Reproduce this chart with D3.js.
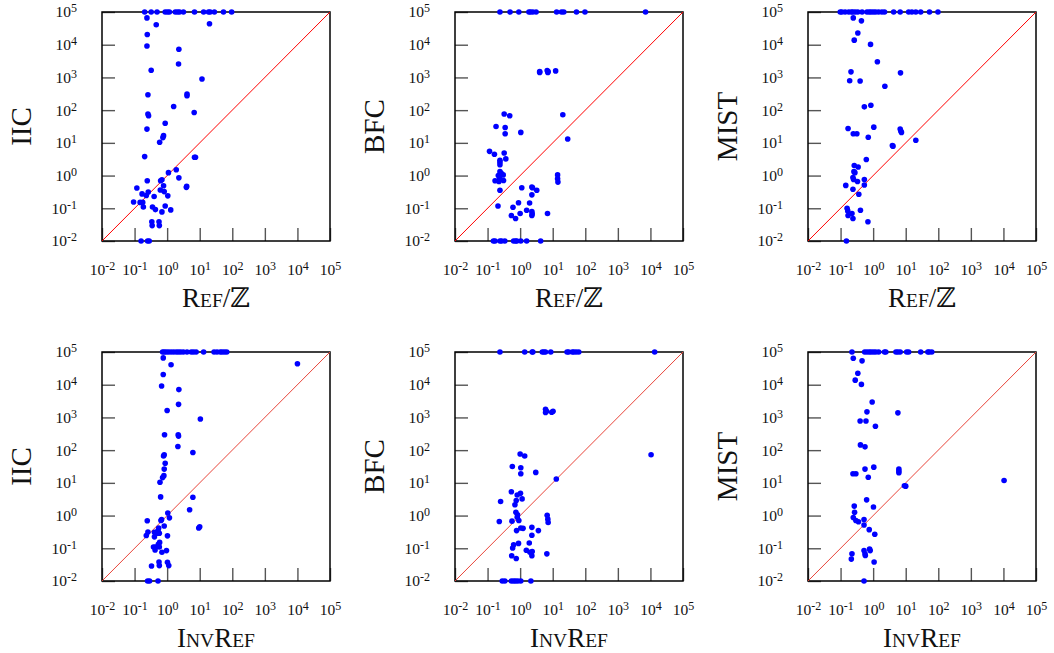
<!DOCTYPE html>
<html lang="en">

<head>
    <meta charset="UTF-8">
    <title>Solver comparison scatter</title>
    <style>
        body { margin: 0; background: #fff; }
        text { font-family: "Liberation Serif", "DejaVu Serif", serif; fill: #111; }
    </style>
</head>

<body>
    <svg id="chart"></svg>

    <script src="https://d3js.org/d3.v7.min.js"></script>
    <script>
        // tick values (powers of ten)
        const tickExps = [-2, -1, 0, 1, 2, 3, 4, 5];
        const yNames = ['IIC', 'BFC', 'MIST'];
        const xNames = ['ref', 'inv'];

        // points as [log10 x, log10 y]
        const iicVsRef = [
            [-0.69, 5], [-0.49, 5], [-0.31, 5], [-0.06, 5], [0.01, 5], [0.07, 5], [0.25, 5], [0.32, 5], [0.38, 5],
            [0.50, 5], [0.84, 5], [1.12, 5], [1.27, 5], [1.32, 5], [1.45, 5], [1.73, 5], [1.98, 5],
            [-0.62, 4.82], [1.30, 4.64], [-0.335, 4.61], [-0.61, 4.31], [-0.62, 3.96], [0.36, 3.86], [0.35, 3.41],
            [-0.49, 3.22], [1.07, 2.95], [-0.59, 2.47], [0.61, 2.49], [0.61, 2.44], [0.20, 2.11], [0.83, 1.93],
            [-0.59, 1.88], [-0.57, 1.83], [-0.06, 1.60], [-0.62, 1.42], [-0.11, 1.22], [-0.13, 1.16], [-0.23, 1.02],
            [-0.69, 0.58], [0.84, 0.56], [0.87, 0.56], [0.28, 0.18], [0.04, 0.09], [0.36, -0.07], [-0.61, -0.16],
            [-0.20, -0.16], [-0.16, -0.13], [-0.11, -0.31], [-0.93, -0.38], [0.59, -0.36], [0.60, -0.33],
            [-0.21, -0.44], [-0.58, -0.50], [-0.77, -0.56], [-0.64, -0.61], [-0.09, -0.49], [0.02, -0.62],
            [-0.40, -0.64], [-1.03, -0.81], [-0.83, -0.82], [-0.75, -0.82], [-0.73, -0.96], [-0.45, -0.96],
            [-0.36, -1.04], [-0.06, -0.93], [0.11, -1.05], [-0.16, -1.11], [-0.47, -1.41], [-0.46, -1.53],
            [-0.25, -1.41], [-0.24, -1.53],
            [-0.80, -2], [-0.60, -2], [-0.55, -2]
        ];

        const bfcVsRef = [
            [-0.62, 5], [-0.31, 5], [-0.04, 5], [0.27, 5], [0.32, 5], [0.39, 5], [0.49, 5], [1.12, 5], [1.27, 5],
            [1.34, 5], [1.73, 5], [1.99, 5], [3.85, 5],
            [0.60, 3.18], [0.60, 3.15], [0.83, 3.21], [0.85, 3.15], [0.86, 3.18], [1.09, 3.20], [-0.49, 1.88],
            [-0.32, 1.83], [1.31, 1.86], [-0.74, 1.50], [-0.46, 1.47], [-0.46, 1.28], [0.02, 1.32], [1.46, 1.12],
            [-0.94, 0.74], [-0.79, 0.65], [-0.49, 0.69], [-0.44, 0.51], [-0.62, 0.47], [-0.62, 0.41], [-0.62, 0.33],
            [-0.58, 0.07], [-0.62, 0.12], [-0.67, 0.0], [-0.52, 0.02], [1.15, 0.02], [1.15, -0.10], [1.16, -0.20],
            [-0.77, -0.16], [-0.65, -0.18], [-0.51, -0.15], [-0.63, -0.08], [0.05, -0.37], [0.36, -0.35],
            [0.38, -0.37], [0.51, -0.45], [-0.62, -0.45], [0.36, -0.59], [-0.05, -0.83], [0.29, -0.84],
            [-0.68, -0.93], [-0.22, -0.97], [0.20, -1.06], [0.36, -1.10], [0.36, -1.22], [0.37, -1.17],
            [0.0, -1.16], [-0.27, -1.22], [-0.14, -1.31], [0.84, -1.16],
            [-0.82, -2], [-0.77, -2], [-0.62, -2], [-0.57, -2], [-0.47, -2], [-0.20, -2], [-0.14, -2], [-0.10, -2],
            [0.02, -2], [0.20, -2], [0.63, -2]
        ];

        const mistVsRef = [
            [-1.01, 5], [-0.96, 5], [-0.86, 5], [-0.75, 5], [-0.67, 5], [-0.62, 5], [-0.55, 5], [-0.47, 5],
            [-0.34, 5], [-0.19, 5], [-0.12, 5], [-0.06, 5], [0.01, 5], [0.08, 5], [0.17, 5], [0.27, 5], [0.35, 5],
            [0.63, 5], [0.83, 5], [1.09, 5], [1.19, 5], [1.31, 5], [1.46, 5], [1.73, 5], [1.99, 5],
            [-0.61, 4.82], [-0.36, 4.73], [-0.47, 4.36], [-0.58, 4.14], [-0.08, 4.01], [0.13, 3.48], [-0.68, 3.17],
            [0.84, 3.14], [-0.72, 2.90], [-0.40, 2.89], [0.36, 2.73], [-0.27, 2.10], [-0.07, 2.15], [-0.77, 1.44],
            [-0.61, 1.28], [-0.50, 1.28], [0.02, 1.48], [-0.15, 1.17], [0.83, 1.42], [0.85, 1.36], [0.87, 1.32],
            [1.31, 1.08], [0.59, 0.92], [0.61, 0.90], [-0.21, 0.49], [-0.58, 0.31], [-0.46, 0.26], [-0.59, 0.12],
            [-0.56, 0.09], [-0.62, -0.06], [-0.60, -0.12], [-0.48, -0.18], [-0.27, -0.12], [-0.27, -0.29],
            [-0.84, -0.30], [-0.62, -0.42], [-0.44, -0.57], [-0.80, -1.0], [-0.78, -1.08], [-0.65, -1.16],
            [-0.62, -1.31], [-0.77, -1.22], [-0.39, -1.06], [-0.16, -1.41],
            [-0.82, -2]
        ];

        const iicVsInv = [
            [-0.14, 5], [-0.09, 5], [-0.03, 5], [0.04, 5], [0.12, 5], [0.20, 5], [0.28, 5], [0.35, 5], [0.42, 5],
            [0.50, 5], [0.61, 5], [0.74, 5], [0.81, 5], [0.89, 5], [1.12, 5], [1.44, 5], [1.53, 5], [1.63, 5],
            [1.69, 5], [1.76, 5], [1.83, 5],
            [4.0, 4.64], [-0.12, 4.82], [0.12, 4.61], [-0.12, 4.31], [-0.17, 3.96], [0.36, 3.85], [0.35, 3.40],
            [0.0, 3.21], [1.02, 2.95], [-0.08, 2.47], [0.34, 2.47], [0.35, 2.43], [0.33, 2.11], [0.79, 1.93],
            [-0.09, 1.86], [-0.11, 1.82], [-0.06, 1.60], [-0.09, 1.42], [-0.10, 1.22], [-0.14, 1.16], [-0.22, 1.02],
            [-0.20, 0.57], [0.79, 0.56], [0.69, 0.18], [0.02, 0.08], [0.07, -0.07], [-0.61, -0.16], [-0.19, -0.15],
            [-0.17, -0.12], [-0.09, -0.32], [0.97, -0.38], [1.00, -0.34], [-0.26, -0.38], [-0.28, -0.46],
            [-0.31, -0.54], [-0.24, -0.54], [-0.59, -0.50], [-0.64, -0.61], [-0.39, -0.51], [-0.39, -0.65],
            [0.01, -0.62], [-0.23, -0.82], [-0.27, -0.88], [-0.42, -0.96], [-0.36, -0.96], [-0.24, -0.96],
            [-0.37, -1.05], [-0.02, -1.07], [-0.16, -1.12], [-0.25, -1.42], [-0.24, -1.53], [0.01, -1.43],
            [0.05, -1.53], [-0.48, -1.54],
            [-0.60, -2], [-0.54, -2], [-0.28, -2]
        ];

        const bfcVsInv = [
            [-0.62, 5], [0.14, 5], [0.37, 5], [0.39, 5], [0.68, 5], [0.73, 5], [0.78, 5], [0.94, 5], [1.44, 5],
            [1.49, 5], [1.60, 5], [1.65, 5], [1.72, 5], [1.80, 5], [4.13, 5],
            [0.78, 3.25], [0.78, 3.15], [0.81, 3.19], [0.97, 3.16], [1.01, 3.19], [0.0, 1.88], [0.14, 1.82],
            [4.02, 1.86], [-0.24, 1.50], [0.02, 1.46], [0.02, 1.28], [0.48, 1.32], [1.11, 1.12], [-0.27, 0.73],
            [-0.09, 0.63], [0.01, 0.68], [-0.60, 0.43], [0.06, 0.51], [-0.12, 0.46], [-0.16, 0.33], [-0.13, 0.10],
            [-0.08, 0.02], [-0.09, -0.05], [-0.04, -0.15], [0.83, 0.01], [0.85, -0.11], [0.86, -0.21],
            [-0.64, -0.18], [-0.25, -0.17], [0.02, -0.38], [0.09, -0.39], [0.36, -0.36], [0.56, -0.46],
            [-0.11, -0.46], [0.36, -0.60], [-0.05, -0.85], [0.28, -0.84], [-0.20, -0.89], [-0.23, -0.99],
            [0.19, -1.06], [0.30, -1.12], [0.37, -1.10], [0.36, -1.23], [-0.26, -1.23], [-0.12, -1.31],
            [0.82, -1.17],
            [-0.55, -2], [-0.47, -2], [-0.27, -2], [-0.20, -2], [-0.14, -2], [-0.07, -2], [0.02, -2], [0.33, -2]
        ];

        const mistVsInv = [
            [-0.65, 5], [-0.26, 5], [-0.19, 5], [-0.12, 5], [-0.06, 5], [0.01, 5], [0.08, 5], [0.17, 5], [0.35, 5],
            [0.39, 5], [0.70, 5], [0.76, 5], [0.83, 5], [1.03, 5], [1.09, 5], [1.46, 5], [1.68, 5], [1.72, 5],
            [1.80, 5],
            [-0.61, 4.81], [-0.34, 4.73], [-0.47, 4.35], [-0.55, 4.14], [-0.36, 4.01], [-0.03, 3.47],
            [-0.19, 3.17], [0.76, 3.14], [-0.40, 2.89], [-0.22, 2.89], [0.07, 2.73], [-0.39, 2.16], [-0.25, 2.10],
            [-0.62, 1.28], [-0.53, 1.28], [-0.25, 1.42], [0.02, 1.48], [-0.15, 1.17], [0.79, 1.42], [0.79, 1.36],
            [0.79, 1.31], [4.02, 1.07], [0.96, 0.91], [1.00, 0.90], [-0.20, 0.48], [0.01, 0.26], [-0.58, 0.29],
            [-0.57, 0.10], [-0.61, -0.06], [-0.53, -0.15], [-0.45, -0.19], [-0.28, -0.12], [-0.28, -0.29],
            [-0.12, -0.43], [0.05, -0.57], [-0.28, -1.07], [-0.25, -1.17], [-0.24, -1.22], [-0.11, -1.02],
            [-0.09, -1.07], [-0.65, -1.17], [-0.67, -1.33], [0.03, -1.42],
            [-0.28, -2]
        ];

        const panelData = [
            [iicVsRef, bfcVsRef, mistVsRef],
            [iicVsInv, bfcVsInv, mistVsInv]
        ];

        // layout
        const W = 1054, H = 653;
        const plotW = 228, plotH = 229;
        const colLeft = [102, 455, 808];
        const rowTop = [12, 352];
        const diagColor = ['#f00', '#e8453a'];

        const svg = d3.select('#chart').attr('width', W).attr('height', H);

        // "10" with superscript exponent
        function powLabel(text) {
            text.each(function (d) {
                const t = d3.select(this);
                const e = Math.round(Math.log10(d));
                t.text(null);
                t.append('tspan').text('10');
                t.append('tspan').attr('dy', '-0.42em').attr('font-size', '12px').text(e);
            });
        }

        // small caps x titles
        function xTitle(g, name) {
            const big = 27, small = 19.5;
            const parts = name === 'ref'
                ? [['R', big], ['EF', small], ['/\u2124', big]]
                : [['I', big], ['NV', small], ['R', big], ['EF', small]];
            const t = g.append('text').attr('text-anchor', 'middle');
            parts.forEach(p => t.append('tspan').attr('font-size', p[1] + 'px').text(p[0]));
            return t;
        }

        const tickVals = tickExps.map(e => Math.pow(10, e));

        panelData.forEach((row, ri) => {
            row.forEach((pts, ci) => {
                const g = svg.append('g')
                    .attr('transform', `translate(${colLeft[ci]},${rowTop[ri]})`);

                const x = d3.scaleLog().domain([1e-2, 1e5]).range([0, plotW]);
                const y = d3.scaleLog().domain([1e-2, 1e5]).range([plotH, 0]);

                // axes with inside ticks
                const xAxis = d3.axisBottom(x).tickValues(tickVals).tickSize(-13).tickPadding(23);
                const yAxis = d3.axisLeft(y).tickValues(tickVals).tickSize(-13).tickPadding(25);

                g.append('g')
                    .attr('transform', `translate(0,${plotH})`)
                    .call(xAxis)
                    .call(a => a.select('.domain').remove())
                    .call(a => a.selectAll('.tick line').attr('stroke', '#555').attr('stroke-width', 1.4))
                    .call(a => a.selectAll('.tick text').attr('font-size', '15.5px')
                        .attr('font-family', '"Liberation Serif", serif').attr('fill', '#222').call(powLabel));

                g.append('g')
                    .call(yAxis)
                    .call(a => a.select('.domain').remove())
                    .call(a => a.selectAll('.tick line').attr('stroke', '#555').attr('stroke-width', 1.4))
                    .call(a => a.selectAll('.tick text').attr('font-size', '15.5px')
                        .attr('font-family', '"Liberation Serif", serif').attr('fill', '#222').call(powLabel));

                // frame
                g.append('rect')
                    .attr('width', plotW).attr('height', plotH)
                    .attr('fill', 'none').attr('stroke', '#000').attr('stroke-width', 1.5);

                // y = x
                g.append('line')
                    .attr('x1', x(1e-2)).attr('y1', y(1e-2))
                    .attr('x2', x(1e5)).attr('y2', y(1e5))
                    .attr('stroke', diagColor[ri]).attr('stroke-width', 1);

                g.append('g')
                    .selectAll('circle')
                    .data(pts)
                    .join('circle')
                    .attr('cx', d => x(Math.pow(10, d[0])))
                    .attr('cy', d => y(Math.pow(10, d[1])))
                    .attr('r', 2.8)
                    .attr('fill', '#0000ff');

                // y title
                g.append('text')
                    .attr('transform', `translate(-81,${plotH / 2}) rotate(-90)`)
                    .attr('text-anchor', 'middle')
                    .attr('dy', '0.35em')
                    .attr('font-size', '29px')
                    .text(yNames[ci]);

                // x title
                xTitle(g, xNames[ri])
                    .attr('x', plotW / 2)
                    .attr('y', plotH + 66);
            });
        });
    </script>
</body>

</html>
